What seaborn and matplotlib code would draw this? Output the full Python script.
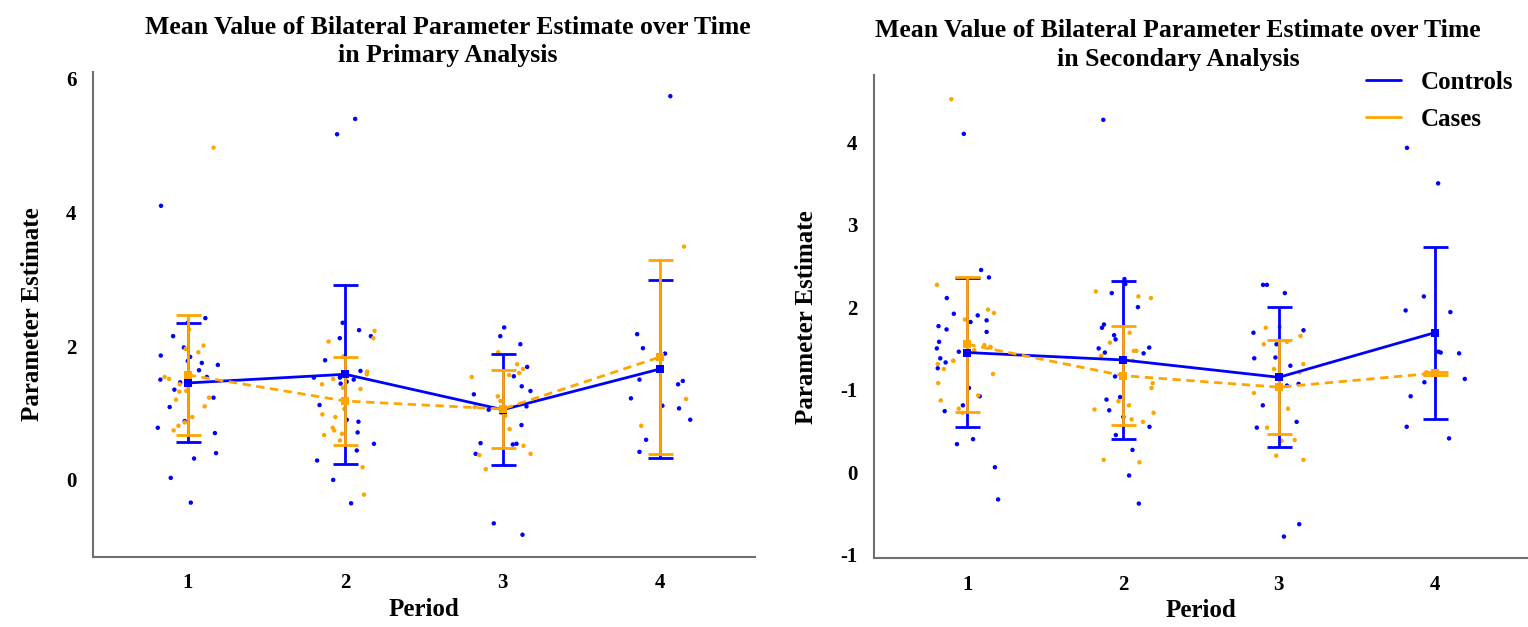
import numpy as np
import pandas as pd
import seaborn as sns
import matplotlib.pyplot as plt
from matplotlib.lines import Line2D

sns.set_style('white')
plt.rcParams['font.family'] = ['Liberation Serif', 'DejaVu Serif']
plt.rcParams['font.weight'] = 'bold'
plt.rcParams['text.color'] = 'black'
plt.rcParams['axes.labelcolor'] = 'black'
plt.rcParams['xtick.color'] = 'black'
plt.rcParams['ytick.color'] = 'black'

# fixed seed so the strip jitter is the same on every run
np.random.seed(7)

periods = [1, 2, 3, 4]
blue = '#0000FF'
orange = '#FFA500'

# primary analysis: individual estimates per period
prim_controls = [
    [4.10, 2.42, 1.98, 1.75, 1.72, 1.84, 1.78, 1.86, 2.15, 2.35, 1.64, 1.54, 1.46,
     1.50, 1.35, 1.23, 1.09, 0.88, 0.70, 0.78, 0.32, 0.40, 0.03, -0.34],
    [5.40, 5.17, 2.35, 2.24, 2.12, 2.15, 1.79, 1.63, 1.54, 1.44, 1.50, 1.47, 1.53,
     1.53, 1.12, 0.87, 0.90, 0.71, 0.54, 0.44, 0.29, 0.00, -0.35],
    [2.28, 2.15, 2.03, 1.69, 1.55, 1.40, 1.33, 1.28, 1.10, 1.05, 1.01, 0.82, 0.54,
     0.55, 0.53, 0.39, -0.65, -0.82],
    [5.74, 2.18, 1.97, 1.89, 1.50, 1.43, 1.48, 1.22, 1.11, 1.07, 0.90, 0.60, 0.42],
]
prim_cases = [
    [4.97, 1.54, 2.25, 2.01, 1.91, 1.96, 1.51, 1.41, 1.43, 1.33, 1.32, 1.23, 1.10,
     1.20, 0.94, 0.74, 0.86, 0.81],
    [2.07, 2.23, 2.12, 1.62, 1.85, 1.58, 1.43, 1.51, 1.38, 1.36, 1.06, 0.98, 0.94,
     0.74, 0.78, 0.67, 0.59, 0.69, 0.19, -0.22],
    [1.91, 1.57, 1.73, 1.66, 1.60, 1.54, 1.25, 1.18, 1.09, 0.96, 0.76, 0.51, 0.39,
     0.37, 0.16],
    [3.49, 1.21, 0.81],
]
prim_ctrl_mean = [1.45, 1.58, 1.05, 1.66]
prim_ctrl_sd = [0.89, 1.34, 0.83, 1.33]
prim_case_mean = [1.57, 1.18, 1.06, 1.84]
prim_case_sd = [0.90, 0.66, 0.59, 1.45]

# secondary analysis
sec_controls = [
    [4.10, 2.45, 2.36, 2.11, 1.90, 1.84, 1.82, 1.73, 1.77, 1.92, 1.70, 1.58, 1.50,
     1.46, 1.38, 1.33, 1.26, 1.02, 0.92, 0.81, 0.74, 0.34, 0.40, 0.06, -0.33],
    [4.27, 2.34, 2.28, 2.17, 2.00, 1.75, 1.79, 1.66, 1.61, 1.45, 1.51, 1.44, 1.50,
     1.16, 0.88, 0.91, 0.75, 0.67, 0.55, 0.45, 0.27, -0.04, -0.38],
    [2.27, 2.27, 2.17, 1.69, 1.72, 1.55, 1.39, 1.38, 1.29, 1.07, 1.05, 0.81, 0.61,
     0.54, -0.63, -0.78],
    [3.93, 3.50, 2.13, 1.96, 1.94, 1.46, 1.44, 1.45, 1.09, 1.13, 0.92, 0.55, 0.41],
]
sec_cases = [
    [4.52, 2.27, 1.97, 1.93, 1.85, 1.54, 1.52, 1.48, 1.51, 1.31, 1.35, 1.35, 1.25,
     1.19, 1.08, 0.93, 0.87, 0.77, 0.72],
    [2.19, 2.13, 2.11, 1.69, 1.57, 1.47, 1.47, 1.35, 1.41, 1.08, 1.02, 0.86, 0.81,
     0.76, 0.72, 0.61, 0.64, 0.12, 0.15],
    [1.75, 1.76, 1.58, 1.55, 1.65, 1.25, 1.31, 1.21, 0.96, 0.77, 0.54, 0.39, 0.38,
     0.20, 0.15],
    [1.21, 1.18],
]
sec_ctrl_mean = [1.45, 1.36, 1.15, 1.69]
sec_ctrl_sd = [0.90, 0.96, 0.85, 1.04]
sec_case_mean = [1.55, 1.17, 1.03, 1.20]
sec_case_sd = [0.82, 0.60, 0.57, 0.02]


def to_long(controls, cases):
    rows = []
    for group, vals in (('Controls', controls), ('Cases', cases)):
        for p, v in zip(periods, vals):
            rows += [(p, group, x) for x in v]
    return pd.DataFrame(rows, columns=['Period', 'Group', 'Estimate'])


def draw(ax, controls, cases, c_mean, c_sd, k_mean, k_sd, title, title_x):
    df = to_long(controls, cases)
    sns.stripplot(data=df, x='Period', y='Estimate', hue='Group',
                  palette={'Controls': blue, 'Cases': orange}, native_scale=True,
                  jitter=0.2, size=3.2, linewidth=0, legend=False, ax=ax, zorder=1)
    ax.errorbar(periods, c_mean, yerr=c_sd, fmt='none', ecolor=blue,
                elinewidth=2, capsize=9, capthick=2, zorder=3)
    ax.errorbar(periods, k_mean, yerr=k_sd, fmt='none', ecolor=orange,
                elinewidth=2, capsize=9, capthick=2, zorder=4)
    sns.lineplot(x=periods, y=c_mean, color=blue, lw=2, marker='s', markersize=6,
                 markeredgewidth=0, ax=ax, zorder=5)
    sns.lineplot(x=periods, y=k_mean, color=orange, lw=2, linestyle=(0, (3, 2)),
                 marker='s', markersize=6, markeredgewidth=0, ax=ax, zorder=6)
    ax.set_xlim(0.4, 4.6)
    ax.set_xticks(periods)
    ax.set_xticklabels([str(p) for p in periods])
    ax.set_xlabel('Period', fontsize=18, fontweight='bold', labelpad=3)
    ax.set_ylabel('Parameter Estimate', fontsize=18, fontweight='bold', labelpad=16)
    ax.set_title(title, fontsize=18.5, fontweight='bold', x=title_x, pad=7,
                 linespacing=1.32)
    for side in ['top', 'right']:
        ax.spines[side].set_visible(False)
    for side in ['left', 'bottom']:
        ax.spines[side].set_color('#707070')
        ax.spines[side].set_linewidth(1.5)
    ax.tick_params(axis='both', length=4, width=1, color='#707070',
                   labelsize=15, pad=8)
    ax.tick_params(axis='y', pad=8)


fig = plt.figure(figsize=(15.28, 6.27), dpi=100)
ax1 = fig.add_axes([0.061, 0.112, 0.433, 0.773])
ax2 = fig.add_axes([0.572, 0.110, 0.428, 0.770])

draw(ax1, prim_controls, prim_cases, prim_ctrl_mean, prim_ctrl_sd,
     prim_case_mean, prim_case_sd,
     'Mean Value of Bilateral Parameter Estimate over Time\nin Primary Analysis', 0.536)
ax1.set_ylim(-1.15, 6.1)
ax1.set_yticks([0, 2, 4, 6])

draw(ax2, sec_controls, sec_cases, sec_ctrl_mean, sec_ctrl_sd,
     sec_case_mean, sec_case_sd,
     'Mean Value of Bilateral Parameter Estimate over Time\nin Secondary Analysis', 0.465)
ax2.set_ylim(-1.04, 4.81)
ax2.set_yticks([-1, 0, 1, 2, 3, 4])
ax2.set_yticklabels(['-1', '0', '-1', '2', '3', '4'])

handles = [Line2D([], [], color=blue, lw=2), Line2D([], [], color=orange, lw=2)]
fig.legend(handles, ['Controls', 'Cases'], loc='upper right',
           bbox_to_anchor=(1.005, 0.923), frameon=False,
           handlelength=1.4, labelspacing=0.55, prop={'weight': 'bold', 'size': 18})

for ax in (ax1, ax2):
    for lbl in ax.get_xticklabels() + ax.get_yticklabels():
        lbl.set_fontweight('bold')

fig.savefig('out.png', dpi=100)
